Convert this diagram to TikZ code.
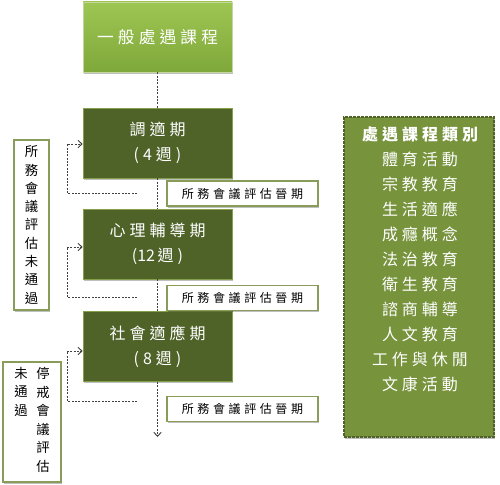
\documentclass[tikz,border=0pt]{standalone}
\usepackage{fontspec}
\newfontfamily\cjk{Noto Sans CJK TC}
\newfontfamily\cjkA[LetterSpace=25]{Noto Sans CJK TC}
\newfontfamily\cjkB[LetterSpace=30]{Noto Sans CJK TC}
\usetikzlibrary{arrows.meta,shadows}
\definecolor{darkol}{HTML}{4F6228}
\definecolor{midol}{HTML}{77933C}
\definecolor{liteol}{HTML}{9BBB59}
\definecolor{topc}{HTML}{9EC653}
\definecolor{botc}{HTML}{7FA83B}
\definecolor{lblc}{HTML}{8A9C5A}
\definecolor{lnc}{HTML}{404040}
\begin{document}
\begin{tikzpicture}[x=0.75pt,y=-0.75pt,
  shd/.style={drop shadow={shadow xshift=0.8pt,shadow yshift=-1.2pt,fill=black,opacity=0.25}},
  topbox/.style={shd,top color=topc,bottom color=botc,draw=liteol!60!white,line width=0.5pt,
     minimum width=111.75pt,minimum height=52.5pt,text=white,font={\cjkA\fontsize{12.5}{18}\selectfont}},
  stagebox/.style={shd,fill=darkol,draw=liteol!70!darkol,line width=0.5pt,
     minimum width=111.75pt,minimum height=52.5pt,text=white,align=center,
     font={\cjkA\fontsize{12}{18.8}\selectfont}},
  lblbox/.style={shd,fill=white,draw=lblc,line width=0.8pt,minimum width=113.25pt,minimum height=18.75pt,
     font={\cjkB\fontsize{9}{11}\selectfont}},
  sidebox/.style={shd,fill=white,draw=lblc,line width=0.8pt,align=center,inner sep=0pt},
  catbox/.style={shd,fill=midol,draw=darkol,line width=0.8pt,dash pattern=on 2pt off 1pt,
     minimum width=112.5pt,minimum height=240pt},
  cattext/.style={text=white,align=center,font={\cjkA\fontsize{12}{18.75}\selectfont}},
  dotln/.style={draw=lnc,line width=0.7pt,dash pattern=on 1.5pt off 1pt},
  arr/.style={dotln,-{Straight Barb[length=3pt,width=5.5pt]}}
]
\useasboundingbox (0,0) rectangle (500,485);

% main column
\node[topbox] (top) at (157.5,37) {一般處遇課程};
\node[stagebox] (s1) at (157.5,143) {調適期\\(4週)};
\node[stagebox] (s2) at (157.5,244) {心理輔導期\\({\cjk 12}\,週)};
\node[stagebox] (s3) at (157.5,346.5) {社會適應期\\(8週)};
\coordinate (endpt) at (157.5,437);

\draw[dotln] (top.south) -- (s1.north);
\draw[dotln] (s1.south) -- (s2.north);
\draw[dotln] (s2.south) -- (s3.north);
\draw[arr] (s3.south) -- (endpt);

% evaluation labels
\node[lblbox] (l1) at (242.5,193.5) {所務會議評估晉期};
\node[lblbox] (l2) at (242.5,298) {所務會議評估晉期};
\node[lblbox] (l3) at (242.5,409) {所務會議評估晉期};

% feedback loops
\coordinate (f1a) at (137,193);
\coordinate (f1b) at (67,193);
\coordinate (f1c) at (67,144);
\coordinate (f2a) at (137,297);
\coordinate (f2b) at (67,297);
\coordinate (f2c) at (67,247);
\coordinate (f3a) at (137,401);
\coordinate (f3b) at (67,401);
\coordinate (f3c) at (67,351);
\draw[arr] (f1a) -- (f1b) -- (f1c) -- (f1c -| s1.west);
\draw[arr] (f2a) -- (f2b) -- (f2c) -- (f2c -| s2.west);
\draw[arr] (f3a) -- (f3b) -- (f3c) -- (f3c -| s3.west);

% side notes
\node[sidebox,minimum width=26.25pt,minimum height=127.5pt,
  font={\cjk\fontsize{10}{13.7}\selectfont}] (n1) at (31.5,225)
  {所\\務\\會\\議\\評\\估\\未\\通\\過};
\node[sidebox,minimum width=43.5pt,minimum height=90pt] (n2) at (32,422) {};
\node[anchor=north,inner sep=0pt,font={\cjk\fontsize{10}{13.9}\selectfont},align=center] (n2r) at (43,367) {停\\戒\\會\\議\\評\\估};
\node[anchor=north,inner sep=0pt,font={\cjk\fontsize{10}{13.9}\selectfont},align=center] (n2l) at (21,367) {未\\通\\過};

% category box
\node[catbox] (cat) at (419,277) {};
\node[cattext,anchor=north] (catt) at (420,122)
  {{\bfseries 處遇課程類別}\\體育活動\\宗教教育\\生活適應\\成癮概念\\法治教育\\衛生教育\\諮商輔導\\人文教育\\工作與休閒\\文康活動};
\end{tikzpicture}
\end{document}
